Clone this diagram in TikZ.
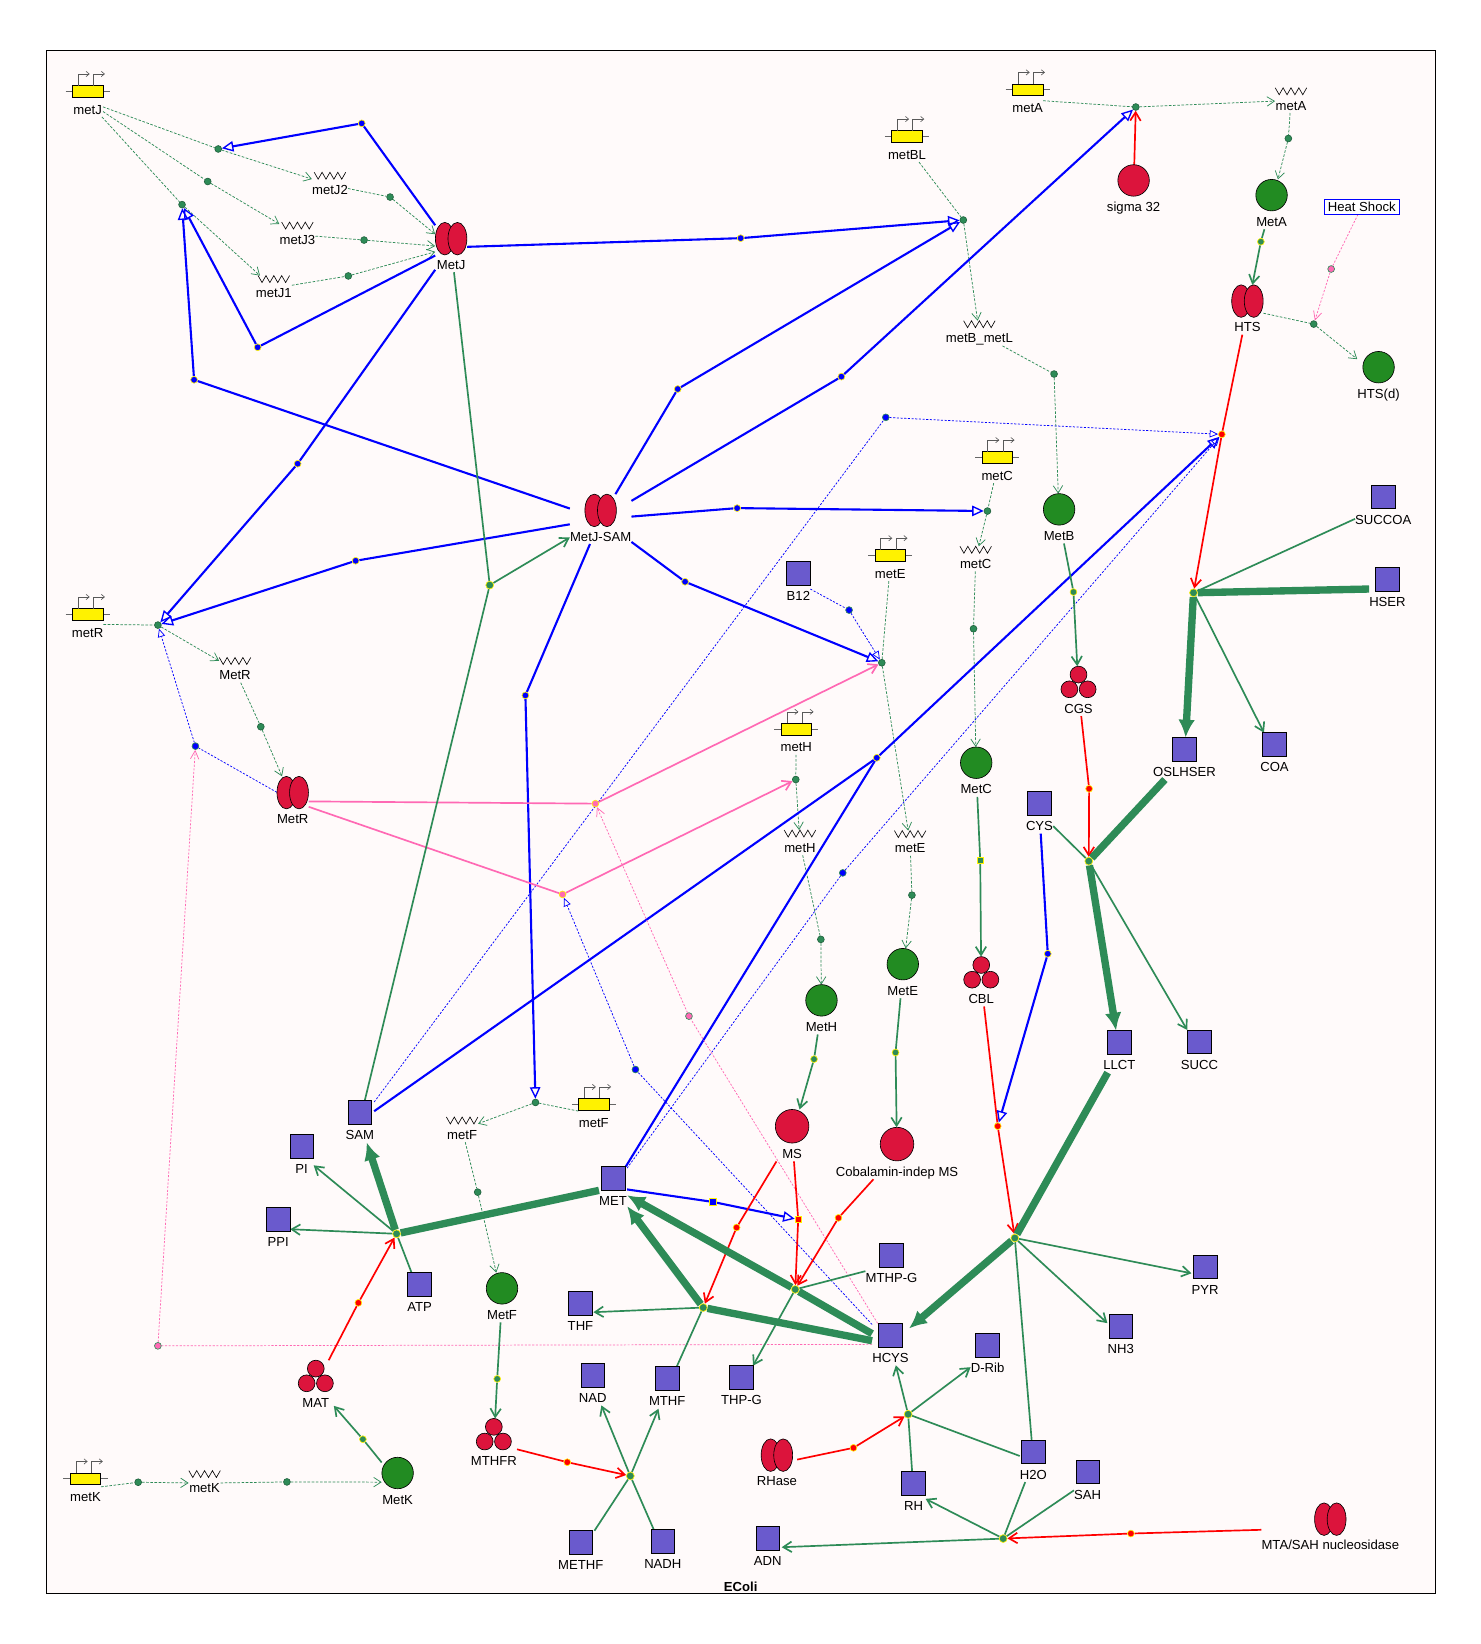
\documentclass[tikz,border=0pt]{standalone}
\usepackage{fontspec}
\setmainfont{Liberation Sans}
\usepackage{tikz}
\usetikzlibrary{calc,arrows.meta}
\pgfdeclarelayer{background}
\pgfsetlayers{background,main}
\definecolor{seagreen}{RGB}{46,139,87}
\definecolor{forestgreen}{RGB}{34,139,34}
\definecolor{crimson}{RGB}{220,20,60}
\definecolor{slateblue}{RGB}{106,90,205}
\definecolor{hotpink}{RGB}{255,105,180}
\definecolor{paperbg}{RGB}{255,250,250}
\newcommand{\lblfont}{\fontsize{12.5}{14}\selectfont}
\tikzset{
   vbarb/.tip={Straight Barb[length=8pt,width=10pt]},
   entity/.style={inner sep=0pt, anchor=north, text depth=2.6pt, font=\lblfont},
   gene/.style={entity, minimum width=29pt, text height=27pt, yshift=5.5pt},
   mrna/.style={entity, minimum width=30pt, text height=21pt, yshift=3.3pt},
   dimer/.style={entity, minimum width=30pt, text height=44.5pt, yshift=15.5pt},
   trimer/.style={entity, minimum width=34pt, text height=44.5pt, yshift=15pt},
   mono/.style={entity, minimum width=30pt, text height=44.5pt, yshift=15pt},
   bigmono/.style={entity, minimum width=32pt, text height=46.5pt, yshift=16pt},
   metab/.style={entity, minimum width=22.5pt, text height=37pt, yshift=11.25pt},
   genebox/.style={draw=black, fill=yellow, line width=0.6pt},
   promoter/.style={black!65, line width=0.6pt, -{Straight Barb[length=3pt,width=5pt]}},
   prot/.style={draw=black, fill=crimson, line width=0.6pt},
   enz/.style={draw=black, fill=forestgreen, line width=0.6pt},
   chem/.style={draw=black, fill=slateblue, line width=0.6pt},
   knot/.style={circle, inner sep=0pt, minimum size=6.5pt, line width=0.6pt},
   tx/.style={knot, fill=seagreen, draw=seagreen!70!black},
   rx/.style={knot, minimum size=7.5pt, fill=seagreen, draw=yellow},
   gx/.style={knot, fill=seagreen, draw=yellow},
   bx/.style={knot, fill=blue, draw=yellow},
   bdx/.style={knot, fill=blue, draw=seagreen},
   redx/.style={knot, fill=red, draw=yellow},
   pkx/.style={knot, fill=hotpink, draw=yellow},
   pdx/.style={knot, fill=hotpink, draw=seagreen},
   sq/.style={rectangle, minimum size=6pt},
   txline/.style={seagreen, line width=0.7pt, dash pattern=on 2.5pt off 1.5pt, -{Straight Barb[length=7pt,width=9pt]}},
   repline/.style={blue, line width=2pt},
   rep/.style={repline, -{Triangle[open,length=11pt,width=10pt,line width=1.3pt]}},
   repd/.style={blue, line width=0.7pt, dash pattern=on 2pt off 1.5pt, -{Triangle[open,length=8pt,width=7pt]}},
   act/.style={hotpink, line width=1.6pt, -vbarb},
   actd/.style={hotpink, line width=0.7pt, dash pattern=on 2pt off 1.5pt, -{Straight Barb[length=8pt,width=8pt]}},
   cat/.style={red, line width=1.6pt, -vbarb},
   rxn/.style={seagreen, line width=1.6pt},
   rxnto/.style={rxn, -vbarb},
   fat/.style={seagreen, line width=7pt},
   fatto/.style={fat, -{Latex[length=17pt,width=16pt]}}
}
\begin{document}
\begin{tikzpicture}[x=1pt,y=-1pt]
\useasboundingbox (0,0) rectangle (1411,1567);

\foreach \n/\x/\y/\t in {metJg/83.5/87/metJ,metAg/979.5/85.5/metA,metBLg/864.5/130/metBL,metRg/83.5/585.5/metR,metCg/950.5/436/metC,metEg/848.5/529.5/metE,metHg/759/695/metH,metFg/566/1052.5/metF,metKg/81.5/1409.5/metK}{
  \node[gene] (\n) at (\x,\y) {\t};
  \draw[black!60, line width=0.7pt] ($(\n.north)+(-21,5.5)$) -- ($(\n.north)+(21,5.5)$);
  \draw[genebox] ($(\n.north)+(-14.5,0)$) rectangle ($(\n.north)+(14.5,11)$);
  \draw[promoter] ($(\n.north)+(-9,0)$) -- ++(0,-11) -- ++(11,0);
  \draw[promoter] ($(\n.north)+(5.5,0)$) -- ++(0,-11) -- ++(11,0);
}
\foreach \n/\x/\y/\t in {metJ2m/314.5/167.5/metJ2,metJ3m/283.5/215/metJ3,metJ1m/261/266/metJ1,metAm/1230.5/87/metA,metBLm/933.5/309/metB\_metL,metRm/224/630/MetR,metCm/930/524/metC,metHm/762.5/794.5/metH,metEm/867.5/795/metE,metFm/440.5/1068/metF,metKm/195/1405/metK}{
  \node[mrna] (\n) at (\x,\y) {\t};
  \draw[black, line width=0.6pt] ($(\n.north)+(-15,0)$) -- ++(3.75,6.6) -- ++(3.75,-6.6) -- ++(3.75,6.6) -- ++(3.75,-6.6) -- ++(3.75,6.6) -- ++(3.75,-6.6) -- ++(3.75,6.6) -- ++(3.75,-6.6);
}
\node[dimer] (MetJ) at (430,227.5) {MetJ};
\node[dimer] (MetJSAM) at (572.5,486.5) {MetJ-SAM};
\node[dimer] (MetR) at (279,755.5) {MetR};
\node[dimer] (HTS) at (1189,287) {HTS};
\node[dimer] (RHase) at (740.5,1387) {RHase};
\node[dimer] (MTASAH) at (1268,1448) {MTA/SAH nucleosidase};
\foreach \n in {MetJ,MetJSAM,MetR,HTS,RHase,MTASAH}{
  \draw[prot] ($(\n.north)+(-6,15.5)$) ellipse [x radius=9pt, y radius=15.5pt];
  \draw[prot] ($(\n.north)+(6,15.5)$) ellipse [x radius=9pt, y radius=15.5pt];
}
\foreach \n/\x/\y/\t in {MetA/1212/186/MetA,HTSd/1314/350/HTS(d),MetB/1009.5/485.5/MetB,MetC/930.5/727/MetC,MetE/860.5/919/MetE,MetH/783/953.5/MetH,MetF/478.5/1228/MetF,MetK/379/1404/MetK}{
  \node[mono] (\n) at (\x,\y) {\t};
  \draw[enz] ($(\n.north)+(0,15)$) circle [radius=15pt];
}
\node[mono] (sigma) at (1080.5,172) {sigma 32};
\node[bigmono] (MS) at (755,1073.5) {MS};
\node[bigmono] (CobMS) at (855,1090.5) {Cobalamin-indep MS};
\foreach \n/\r in {sigma/15,MS/16,CobMS/16}
  \draw[prot] ($(\n.north)+(0,\r)$) circle [radius=\r*1pt];
\foreach \n/\x/\y in {CGS/1028/650,CBL/935.3/926.8,MAT/301/1311.5,MTHFR/470.7/1367}{
  \node[trimer] (\n) at (\x,\y) {\n};
  \draw[prot] ($(\n.north)+(0,8)$) circle [radius=8pt];
  \draw[prot] ($(\n.north)+(-8.7,22)$) circle [radius=8pt];
  \draw[prot] ($(\n.north)+(8.7,22)$) circle [radius=8pt];
}
\foreach \n/\x/\y/\t in {B12/761/546.5/B12,SUCCOA/1318.5/473.5/SUCCOA,HSER/1322.5/552.3/HSER,OSLHSER/1129/714.3/OSLHSER,COA/1214.8/709.6/COA,CYS/990.8/765.8/CYS,LLCT/1067/993.6/LLCT,SUCC/1143.3/993/SUCC,SAM/342.9/1060/SAM,PI/287.5/1092.5/PI,PPI/265.2/1162.4/PPI,ATP/399.9/1224/ATP,MET/584.3/1123/MET,THF/553.3/1242.5/THF,MTHPG/849.7/1196.4/MTHP-G,HCYS/848.8/1272.6/HCYS,DRib/941.3/1282.2/D-Rib,PYR/1148.7/1207.5/PYR,NH3/1068.2/1264.1/NH3,NAD/565/1310.8/NAD,MTHF/636/1314/MTHF,THPG/706.7/1313/THP-G,H2O/985/1383.9/H2O,SAH/1036.7/1402.9/SAH,RH/870.8/1414/RH,ADN/731.7/1466.5/ADN,METHF/553.5/1470.3/METHF,NADH/631.8/1469/NADH}{
  \node[metab] (\n) at (\x,\y) {\t};
  \draw[chem] ($(\n.north)+(-11.25,0)$) rectangle ++(22.5,22.5);
}
\node[draw=blue, fill=white, font=\lblfont, inner xsep=3.5pt, inner ysep=2.4pt, line width=0.8pt] (HeatShock) at (1298,197) {Heat Shock};
\node[font=\bfseries\fontsize{12.5}{14}\selectfont] (ecoli) at (706,1512) {EColi};

\foreach \k/\x/\y in {tJ2/208/142,tJ3/198/173,tJ1/173.5/195,lJ2/371.8/187.8,lJ3/347/228.8,lJ1/332/263,tA/1082.6/102,lA/1228/132,tBL/918.2/209.7,lBL/1004.7/356.5,tR/150.5/595.8,lR/248.6/692.7,tC/941.2/487.1,lC/927.9/599.3,tE/840.5/631.7,lE/869.2/853.2,tH/758.5/743,lH/782.4/895.4,tF/510.4/1050.8,lF/455.3/1136.3,tK/131.7/1412.8,lK/273.5/1412.5,tHd/1252.2/308.9}
  \node[tx] (\k) at (\x,\y) {};
\foreach \k/\x/\y in {bJ2/344.8/117.6,bJ1/245.6/331,bSJ1/185/362,bJBL/706/227,bJR/283.7/442,bSR/339/534.5,bSBL/646/370.8,bSA/802/359,bSC/702.6/484.3,bSE/653/554.5,bSF/500.8/662.8,bHTS/835.7/722.3,bCYS/998.7/909.1}
  \node[bx] (\k) at (\x,\y) {};
\node[bx,sq] (bMET) at (679.4,1145.6) {};
\foreach \k/\x/\y in {dR/186.3/711.2,dB12/809.3/581.5,dSAM/844.3/397.8,dMET/803.3/832,dHC/605.7/1019.4}
  \node[bdx] (\k) at (\x,\y) {};
\foreach \k/\x/\y in {pR1/567.5/766,pR2/536.2/852.5}
  \node[pkx] (\k) at (\x,\y) {};
\foreach \k/\x/\y in {pHC1/656.7/968.5,pHC2/150.5/1282.8,pHS/1268.8/256.4}
  \node[pdx] (\k) at (\x,\y) {};
\foreach \k/\x/\y in {rHTS/1164.6/414,rCGS/1038.1/751.8,rCBL/951/1073.4,rMAT/341.6/1241.8,rMS1/702.1/1170,rCob/799.2/1160.8,rMTHFR/540.7/1393.7,rRH/813.5/1380,rMTA/1077.9/1461.7}
  \node[redx] (\k) at (\x,\y) {};
\node[redx,sq] (rMS2) at (760.8,1162.4) {};
\foreach \k/\x/\y in {gMetA/1201.8/230.4,gMetB/1023.2/564.3,gMetE/853.6/1003.2,gMetH/775.9/1009.5,gMetF/473.9/1314.3,gMetK/345.9/1371.8}
  \node[gx] (\k) at (\x,\y) {};
\node[gx,sq] (gMetC) at (934.3,820) {};
\foreach \k/\x/\y in {xJS/466.8/557.7,xHS/1137.6/565,xCG/1037.8/820.8,xCB/967.3/1180,xSM/378/1176,xMS/670.3/1246.3,xME/758/1229,xMF/600.8/1406.8,xRH/865.6/1348,xSH/956.2/1466.5}
  \node[rx] (\k) at (\x,\y) {};

\begin{pgfonlayer}{background}
\draw[fill=paperbg, line width=0.8pt] (44,48) rectangle (1368,1519);
\foreach \a/\b/\c in {metJg/tJ2/metJ2m,metJg/tJ3/metJ3m,metJg/tJ1/metJ1m,metJ2m/lJ2/MetJ,metJ3m/lJ3/MetJ,metJ1m/lJ1/MetJ,metAg/tA/metAm,metAm/lA/MetA,metBLg/tBL/metBLm,metBLm/lBL/MetB,metRg/tR/metRm,metRm/lR/MetR,metCg/tC/metCm,metCm/lC/MetC,metEg/tE/metEm,metEm/lE/MetE,metHg/tH/metHm,metHm/lH/MetH,metFg/tF/metFm,metFm/lF/MetF,metKg/tK/metKm,metKm/lK/MetK,HTS/tHd/HTSd}
  \draw[txline] (\a) -- (\b) -- (\c);
\foreach \a/\b/\c in {MetJ/bJ2/tJ2,MetJ/bJ1/tJ1,MetJSAM/bSJ1/tJ1,MetJ/bJBL/tBL,MetJ/bJR/tR,MetJSAM/bSR/tR,MetJSAM/bSBL/tBL,MetJSAM/bSA/tA,MetJSAM/bSC/tC,MetJSAM/bSE/tE,MetJSAM/bSF/tF,SAM/bHTS/rHTS,CYS/bCYS/rCBL,MET/bMET/rMS2}
  \draw[rep] (\a) -- (\b) -- (\c);
\draw[repline] (MET) -- (bHTS);
\foreach \a/\b/\c in {MetR/dR/tR,B12/dB12/tE,SAM/dSAM/rHTS,MET/dMET/rHTS,HCYS/dHC/pR2}
  \draw[repd] (\a) -- (\b) -- (\c);
\foreach \a/\b/\c in {MetR/pR1/tE,MetR/pR2/tH}
  \draw[act] (\a) -- (\b) -- (\c);
\foreach \a/\b/\c in {HCYS/pHC1/pR1,HCYS/pHC2/dR,HeatShock/pHS/tHd}
  \draw[actd] (\a) -- (\b) -- (\c);
\draw[cat] (sigma.center) -- (tA);
\foreach \a/\b/\c in {HTS/rHTS/xHS,CGS/rCGS/xCG,CBL/rCBL/xCB,MAT/rMAT/xSM,MS/rMS1/xMS,MS/rMS2/xME,CobMS/rCob/xME,MTHFR/rMTHFR/xMF,RHase/rRH/xRH,MTASAH/rMTA/xSH}
  \draw[cat] (\a) -- (\b) -- (\c);
\foreach \a/\b/\c in {MetA/gMetA/HTS,MetB/gMetB/CGS,MetC/gMetC/CBL,MetE/gMetE/CobMS,MetH/gMetH/MS,MetF/gMetF/MTHFR,MetK/gMetK/MAT}
  \draw[rxnto] (\a) -- (\b) -- (\c);
\foreach \a/\b in {MetJ/xJS,SAM/xJS,SUCCOA/xHS,CYS/xCG,H2O/xCB,ATP/xSM,MTHF/xMS,MTHPG/xME,METHF/xMF,NADH/xMF,RH/xRH,H2O/xRH,SAH/xSH,H2O/xSH}
  \draw[rxn] (\a) -- (\b);
\foreach \a/\b in {xJS/MetJSAM,xHS/COA,xCG/SUCC,xCB/PYR,xCB/NH3,xSM/PI,xSM/PPI,xMS/THF,xME/THPG,xMF/NAD,xMF/MTHF,xRH/HCYS,xRH/DRib,xSH/RH,xSH/ADN}
  \draw[rxnto] (\a) -- (\b);
\foreach \a/\b in {HSER/xHS,OSLHSER/xCG,LLCT/xCB,MET/xSM,HCYS/xMS,HCYS/xME}
  \draw[fat] (\a) -- (\b);
\foreach \a/\b in {xHS/OSLHSER,xCG/LLCT,xCB/HCYS,xSM/SAM,xMS/MET,xME/MET}
  \draw[fatto] (\a) -- (\b);
\end{pgfonlayer}
\end{tikzpicture}
\end{document}
